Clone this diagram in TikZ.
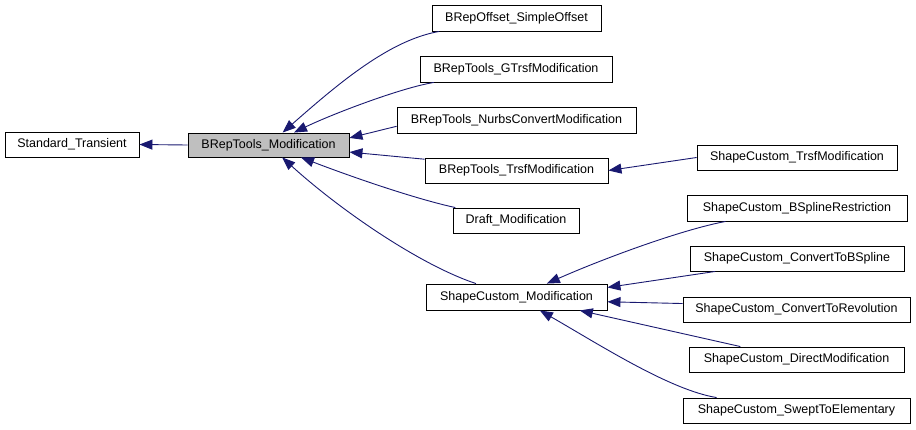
\documentclass[tikz,border=0pt]{standalone}
\usepackage{fontspec}
\setmainfont{Liberation Sans}
\usetikzlibrary{arrows.meta}
\definecolor{edgeblue}{HTML}{191970}
\definecolor{boxgray}{HTML}{BFBFBF}
\tikzset{
  cls/.style={draw=black, line width=0.9pt, fill=white, rectangle, inner sep=0pt,
    font=\fontsize{12.5}{14}\selectfont, anchor=center},
  inh/.style={draw=edgeblue, line width=0.9pt, {Triangle[length=13pt,width=10pt]}-},
}
\begin{document}
\begin{tikzpicture}[x=1pt,y=-1pt]
\useasboundingbox (0,0) rectangle (916,429);
% nodes (centre, width, height in px)
\node[cls, minimum width=134, minimum height=25] (ST) at (72,144.5) {Standard\_Transient};
\node[cls, fill=boxgray, minimum width=161, minimum height=24] (BM) at (268.5,145) {BRepTools\_Modification};
\node[cls, minimum width=169, minimum height=26] (SO) at (516.5,18) {BRepOffset\_SimpleOffset};
\node[cls, minimum width=192, minimum height=26] (GT) at (516,69) {BRepTools\_GTrsfModification};
\node[cls, minimum width=239, minimum height=26] (NC) at (516.5,120) {BRepTools\_NurbsConvertModification};
\node[cls, minimum width=183, minimum height=25] (BT) at (516.5,170.5) {BRepTools\_TrsfModification};
\node[cls, minimum width=126, minimum height=25] (DM) at (516,220.5) {Draft\_Modification};
\node[cls, minimum width=200, minimum height=25] (CT) at (797,157.5) {ShapeCustom\_TrsfModification};
\node[cls, minimum width=181, minimum height=26] (CM) at (516.5,297) {ShapeCustom\_Modification};
\node[cls, minimum width=220, minimum height=26] (BR) at (797,208) {ShapeCustom\_BSplineRestriction};
\node[cls, minimum width=214, minimum height=25] (CB) at (797,258.5) {ShapeCustom\_ConvertToBSpline};
\node[cls, minimum width=227, minimum height=25] (CR) at (796.5,309.5) {ShapeCustom\_ConvertToRevolution};
\node[cls, minimum width=215, minimum height=25] (DI) at (796.5,359.5) {ShapeCustom\_DirectModification};
\node[cls, minimum width=227, minimum height=25] (SW) at (796.5,410.5) {ShapeCustom\_SweptToElementary};
% edges
\draw[inh] (ST.east) -- (BM.west);
\draw[inh] (BM) .. controls (340,82) and (390,40) .. (SO);
\draw[inh] (BM) .. controls (330,115) and (400,88) .. (GT);
\draw[inh] (BM.5.7) -- (NC.183.8);
\draw[inh] (BM.-5.7) -- (BT.173.5);
\draw[inh] (BM) .. controls (360,180) and (420,200) .. (DM);
\draw[inh] (BM) .. controls (340,210) and (420,265) .. (CM);
\draw[inh] (BT.east) -- (CT.west);
\draw[inh] (CM) .. controls (600,260) and (680,230) .. (BR);
\draw[inh] (CM.6.9) -- (CB.189);
\draw[inh] (CM.-3.2) -- (CR.177.2);
\draw[inh] (CM.-12.5) -- (DI.167.5);
\draw[inh] (CM) .. controls (600,345) and (670,390) .. (SW);
\end{tikzpicture}
\end{document}
